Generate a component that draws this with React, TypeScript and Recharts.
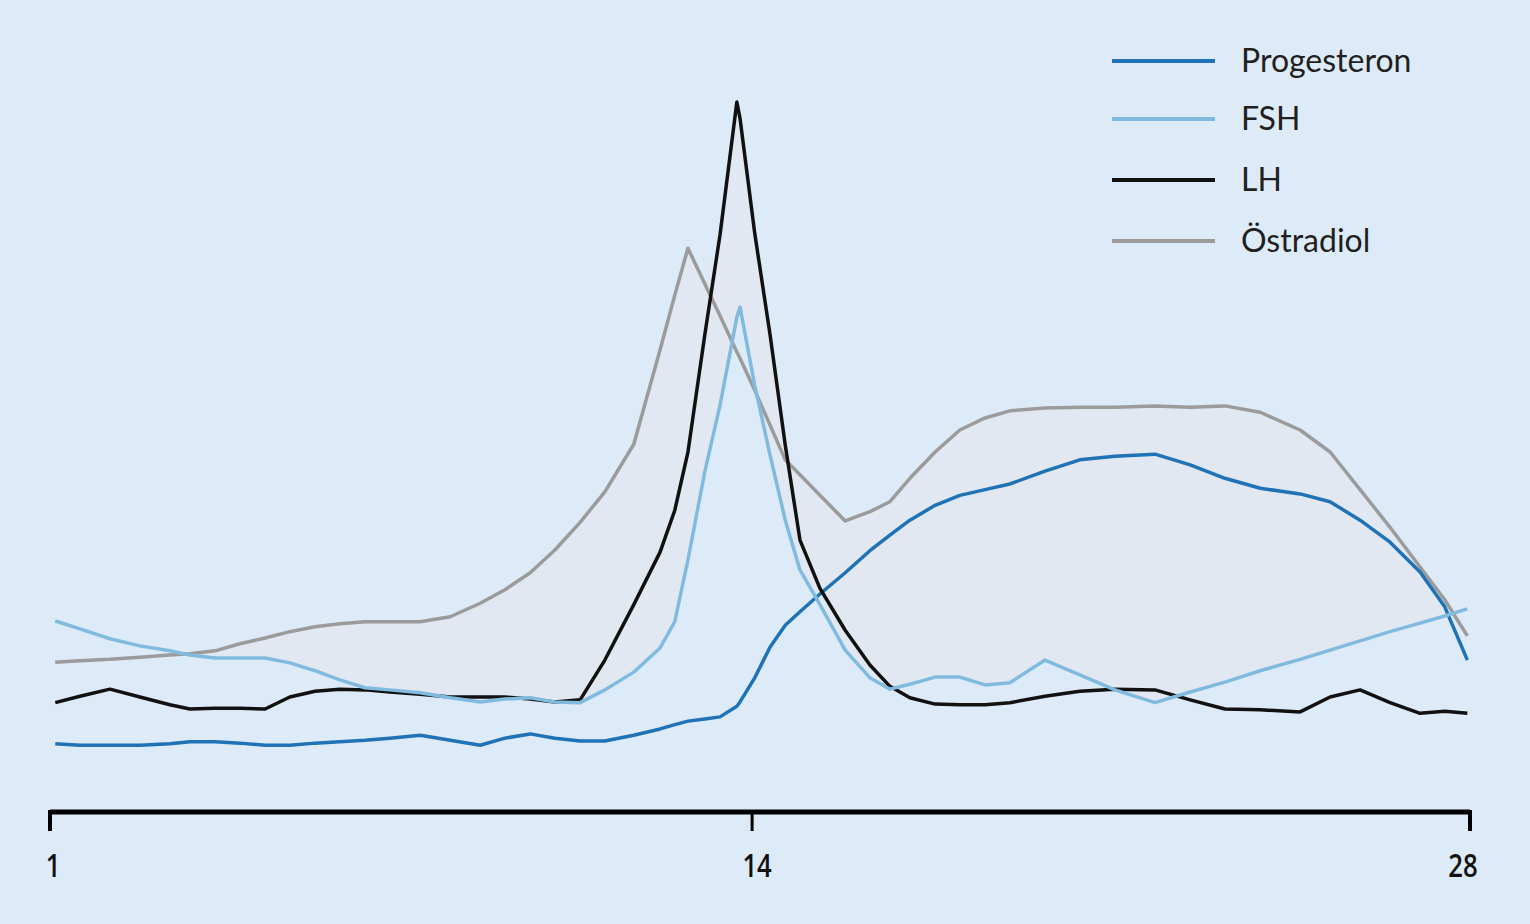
import React from "react";
import { ComposedChart, Line, Area, XAxis, YAxis, Legend } from "recharts";

// cycle day of each sample (axis is drawn 1..28)
const days = [
  1.1, 1.57, 2.14, 2.71, 3.28, 3.66, 4.14, 4.61, 5.09, 5.56,
  6.04, 6.51, 6.99, 7.46, 8.04, 8.61, 9.18, 9.65, 10.13, 10.6,
  11.08, 11.55, 12.1, 12.6, 12.88, 13.13, 13.45, 13.74, 14.06, 14.12,
  14.4, 14.69, 14.98, 15.26, 15.64, 16.12, 16.59, 16.97, 17.35, 17.83,
  18.3, 18.78, 19.25, 19.92, 20.58, 21.25, 22.01, 22.68, 23.34, 24.01,
  24.77, 25.34, 25.91, 26.48, 27.05, 27.52, 27.95,
];

// relative hormone levels (0..100)
const progesteron = [
  9.6, 9.4, 9.4, 9.4, 9.6, 9.9, 9.9, 9.7, 9.4, 9.4,
  9.7, 9.9, 10.1, 10.4, 10.8, 10.1, 9.4, 10.4, 11.0, 10.4,
  10.0, 10.0, 10.8, 11.7, 12.3, 12.8, 13.1, 13.4, 14.9, 15.5,
  18.9, 23.2, 26.3, 28.2, 30.7, 33.7, 36.8, 39.0, 41.1, 43.2,
  44.6, 45.4, 46.2, 48.0, 49.6, 50.1, 50.4, 48.9, 47.0, 45.6,
  44.8, 43.7, 41.1, 38.0, 33.8, 28.9, 21.4,
];

const fsh = [
  26.9, 25.8, 24.4, 23.4, 22.7, 22.1, 21.7, 21.7, 21.7, 21.0,
  19.9, 18.6, 17.5, 17.2, 16.8, 16.1, 15.5, 15.9, 16.1, 15.5,
  15.4, 17.2, 19.7, 23.1, 26.8, 35.5, 47.9, 57.3, 69.7, 71.1,
  60.1, 50.3, 41.1, 34.1, 29.2, 22.8, 18.9, 17.3, 18.0, 19.0,
  19.0, 17.9, 18.2, 21.4, 19.3, 17.2, 15.4, 16.9, 18.3, 19.9,
  21.5, 22.8, 24.1, 25.4, 26.6, 27.6, 28.6,
];

const lh = [
  15.4, 16.3, 17.3, 16.2, 15.1, 14.5, 14.6, 14.6, 14.5, 16.2,
  17.0, 17.3, 17.2, 16.9, 16.6, 16.2, 16.2, 16.2, 15.9, 15.5,
  15.8, 21.4, 29.2, 36.6, 42.5, 50.7, 67.2, 81.3, 100.0, 97.7,
  81.5, 67.3, 51.7, 38.3, 31.5, 25.6, 20.7, 17.7, 16.1, 15.2,
  15.1, 15.1, 15.4, 16.3, 17.0, 17.3, 17.2, 15.8, 14.5, 14.4,
  14.1, 16.2, 17.2, 15.4, 13.9, 14.2, 13.9,
];

const oestradiol = [
  21.1, 21.3, 21.5, 21.8, 22.1, 22.3, 22.7, 23.7, 24.5, 25.4,
  26.1, 26.5, 26.8, 26.8, 26.8, 27.5, 29.4, 31.3, 33.7, 36.9,
  40.8, 45.1, 51.8, 65.1, 72.8, 79.4, 74.4, 69.9, 64.8, 63.9,
  59.4, 54.5, 49.6, 47.5, 44.6, 41.0, 42.3, 43.7, 47.0, 50.7,
  53.8, 55.5, 56.5, 56.9, 57.0, 57.0, 57.2, 57.0, 57.2, 56.3,
  53.8, 50.7, 45.4, 40.1, 34.5, 29.9, 24.8,
];

const tickDays = [1, 14.35, 28];
const tickLabels = ["1", "14", "28"];

const seriesOrder = ["Progesteron", "FSH", "LH", "Östradiol"];
const seriesColors: Record<string, string> = {
  Progesteron: "#1f72b6",
  FSH: "#80bbdf",
  LH: "#111111",
  "Östradiol": "#9b9b9b",
};

// shaded zone between FSH and the upper envelope of Östradiol / LH
const data = days.map((day, i) => {
  const top = Math.max(oestradiol[i], lh[i]);
  return {
    day,
    Progesteron: progesteron[i],
    FSH: fsh[i],
    LH: lh[i],
    "Östradiol": oestradiol[i],
    band: top > fsh[i] ? [fsh[i], top] : null,
  };
});

const labelShift = [3, 5, -7];

const DayTick = ({ x, y, payload }: any) => {
  const idx = tickDays.indexOf(payload.value);
  return (
    <g>
      <line x1={x} x2={x} y1={y - 2} y2={y + 19} stroke="#000" strokeWidth={idx === 1 ? 3 : 4} />
      <text
        transform={`translate(${x + labelShift[idx]},${y + 65}) scale(0.78,1)`}
        textAnchor="middle"
        fontFamily="'Open Sans', sans-serif"
        fontWeight={600}
        fontSize={33}
        fill="#111"
      >
        {tickLabels[idx]}
      </text>
    </g>
  );
};

const rowY = [31, 89, 150, 211];

const LegendBox = ({ payload }: any) => {
  const items = seriesOrder
    .map((name) => (payload || []).find((p: any) => p.value === name))
    .filter(Boolean);
  return (
    <svg width={330} height={240}>
      {items.map((item: any, i: number) => (
        <g key={item.value}>
          <line x1={12} x2={115} y1={rowY[i]} y2={rowY[i]} stroke={item.color} strokeWidth={4} />
          <text
            x={141}
            y={rowY[i] + 11}
            fontFamily="Lato, 'Open Sans', sans-serif"
            fontSize={32}
            fill="#231f20"
          >
            {item.value}
          </text>
        </g>
      ))}
    </svg>
  );
};

export default function App() {
  return (
    <div style={{ position: "absolute", left: 0, top: 0, width: 1530, height: 924, background: "#ddebf8" }}>
      <ComposedChart width={1530} height={924} data={data} margin={{ top: 102, right: 60, bottom: 0, left: 50 }}>
        <XAxis
          dataKey="day"
          type="number"
          domain={[1, 28]}
          ticks={tickDays}
          interval={0}
          height={112}
          tickSize={0}
          tickMargin={0}
          tickLine={false}
          tick={<DayTick />}
          axisLine={{ stroke: "#000", strokeWidth: 5 }}
          allowDataOverflow
        />
        <YAxis hide domain={[0, 100]} />
        <Legend
          layout="horizontal"
          verticalAlign="middle"
          align="center"
          wrapperStyle={{ left: 1100, top: 30, width: 330, height: 240 }}
          content={(props: any) => <LegendBox {...props} />}
        />
        <Area
          dataKey="band"
          type="linear"
          stroke="none"
          fill="#e1e8f1"
          fillOpacity={1}
          legendType="none"
          isAnimationActive={false}
        />
        <Line dataKey="Östradiol" type="linear" stroke={seriesColors["Östradiol"]} strokeWidth={3.5} strokeLinejoin="round" dot={false} isAnimationActive={false} />
        <Line dataKey="Progesteron" type="linear" stroke={seriesColors.Progesteron} strokeWidth={3.5} strokeLinejoin="round" dot={false} isAnimationActive={false} />
        <Line dataKey="LH" type="linear" stroke={seriesColors.LH} strokeWidth={3.5} strokeLinejoin="round" dot={false} isAnimationActive={false} />
        <Line dataKey="FSH" type="linear" stroke={seriesColors.FSH} strokeWidth={3.5} strokeLinejoin="round" dot={false} isAnimationActive={false} />
      </ComposedChart>
    </div>
  );
}
